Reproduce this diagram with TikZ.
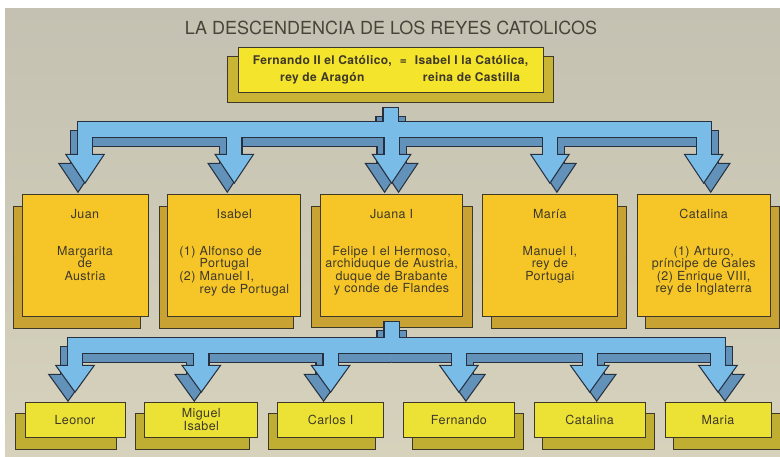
\documentclass[tikz,border=0pt]{standalone}
\usepackage{fontspec}
\setmainfont{TeX Gyre Heros}
\newfontfamily\boxfont[LetterSpace=3]{TeX Gyre Heros}
\usetikzlibrary{positioning, calc}

\definecolor{papertop}{RGB}{196,193,178}
\definecolor{paperlow}{RGB}{214,210,188}
\definecolor{ink}{RGB}{62,56,40}
\definecolor{titleink}{RGB}{72,68,58}
\definecolor{kingfill}{RGB}{244,228,44}
\definecolor{kingshadefill}{RGB}{202,180,54}
\definecolor{kidfill}{RGB}{246,198,40}
\definecolor{kidshadefill}{RGB}{200,162,50}
\definecolor{grandfill}{RGB}{236,226,54}
\definecolor{grandshadefill}{RGB}{192,174,50}
\definecolor{arrowblue}{RGB}{122,188,232}
\definecolor{arrowshade}{RGB}{98,146,186}
\definecolor{arrowline}{RGB}{38,48,62}

\pgfdeclarelayer{paperlayer}
\pgfdeclarelayer{shadelayer}
\pgfsetlayers{paperlayer,shadelayer,main}

% block arrow family: #1 style, #2 x offset, #3 y offset
\newcommand\familyarrows[3]{%
  \path[#1] ($(\arrsrc.south |- 0,\ystem)+(#2-7,#3)$) rectangle ($(\arrsrc.south |- 0,\ybar)+(#2+7,#3+1)$);
  \path[#1] ($(\arrleft.north |- 0,\ybar)+(#2-7,#3)$) rectangle ($(\arrright.north |- 0,\ybarlow)+(#2+7,#3)$);
  \foreach \k in \arrkids {
    \path[#1] ($(\k.north |- 0,\ybarlow)+(#2-7,#3-1)$) rectangle ($(\k.north |- 0,\yhead)+(#2+7,#3+1)$);
    \path[#1] ($(\k.north |- 0,\yhead)+(#2-18,#3)$) -- ($(\k.north |- 0,\yhead)+(#2+18,#3)$)
      -- ($(\k.north |- 0,\ytip)+(#2,#3)$) -- cycle;
  }}

% shadow to the left and right of the stem, then the blue arrows on top
\newcommand\shadedarrows{%
  \begin{scope}
    \clip (0,0) rectangle (\arrsrc.south |- 0,460);
    \familyarrows{arrowshadeout}{-7}{9}
    \familyarrows{arrowshadein}{-7}{9}
  \end{scope}
  \begin{scope}
    \clip (\arrsrc.south |- 0,0) rectangle (780,460);
    \familyarrows{arrowshadeout}{7}{9}
    \familyarrows{arrowshadein}{7}{9}
  \end{scope}
  \familyarrows{arrowout}{0}{0}
  \familyarrows{arrowin}{0}{0}}

\begin{document}
\begin{tikzpicture}[
    x=1pt, y=-1pt,
    node distance=19pt,
    headline/.style={font=\fontsize{18}{20}\selectfont, text=titleink},
    kingbox/.style={draw=ink, line width=0.8pt, fill=kingfill, text=ink, inner sep=0pt,
        minimum width=305pt, minimum height=45pt, font=\boxfont\bfseries\fontsize{12}{16.5}\selectfont},
    kidbox/.style={draw=ink, line width=0.8pt, fill=kidfill, text=ink, inner sep=0pt,
        text width=#1, align=center, text height=24pt, text depth=98pt,
        font=\boxfont\fontsize{12.5}{12.5}\selectfont},
    grandbox/.style={draw=ink, line width=0.8pt, fill=grandfill, text=ink, inner sep=0pt,
        minimum width=#1, minimum height=35pt, align=center, font=\boxfont\fontsize{12.5}{13}\selectfont},
    kingshade/.style={draw=ink, line width=0.8pt, fill=kingshadefill},
    kidshade/.style={draw=ink, line width=0.8pt, fill=kidshadefill},
    grandshade/.style={draw=ink, line width=0.8pt, fill=grandshadefill},
    arrowshadeout/.style={draw=arrowline, line width=2.4pt, fill=arrowshade},
    arrowshadein/.style={fill=arrowshade},
    arrowout/.style={draw=arrowline, line width=2.4pt, fill=arrowblue},
    arrowin/.style={fill=arrowblue}
]
\useasboundingbox (0,0) rectangle (780,456);

\begin{pgfonlayer}{paperlayer}
  \fill[white] (0,0) rectangle (780,456);
  \shade[top color=papertop, bottom color=paperlow] (5,8) rectangle (780,456);
\end{pgfonlayer}

\node[headline] (title) at (391,28) {LA DESCENDENCIA DE LOS REYES CATOLICOS};

\node[kingbox] (parents) at (390.5,69.5) {\begin{tabular}{@{}c@{\hspace{8pt}}c@{\hspace{8pt}}c@{}}
    Fernando II el Católico, & = & Isabel I la Católica,\\
    rey de Aragón & & reina de Castilla\end{tabular}};

% children
\node[kidbox=126pt] (juan) at (85,255) {Juan\\[24.5pt]Margarita\\de\\Austria};
\node[kidbox=133pt, right=of juan] (isabel) {Isabel\\[24.5pt]\begin{tabular}[t]{@{}l@{\ }l@{}}
    (1) & Alfonso de\\ & Portugal\\ (2) & Manuel I,\\ & rey de Portugal\end{tabular}};
\node[kidbox=142pt, right=of isabel] (juana) {Juana I\\[24.5pt]Felipe I el Hermoso,\\archiduque de Austria,\\duque de Brabante\\y conde de Flandes};
\node[kidbox=135pt, right=of juana] (maria) {María\\[24.5pt]Manuel I,\\rey de\\Portugai};
\node[kidbox=133pt, right=of maria] (catalina) {Catalina\\[24.5pt](1) Arturo,\\príncipe de Gales\\(2) Enrique VIII,\\rey de Inglaterra};

% grandchildren
\node[grandbox=100pt] (leonor) at (75,420) {Leonor};
\node[grandbox=113pt, right=of leonor] (miguel) {Miguel\\Isabel};
\node[grandbox=106pt, right=of miguel] (carlos) {Carlos I};
\node[grandbox=111pt, right=of carlos] (fernando) {Fernando};
\node[grandbox=111pt, right=of fernando] (catalinab) {Catalina};
\node[grandbox=106pt, right=of catalinab] (mariab) {Maria};

% shadows behind the boxes
\begin{pgfonlayer}{shadelayer}
  \draw[kingshade] ($(parents.north west)+(-10,10)$) rectangle ($(parents.south east)+(10,10)$);
  \foreach \k in {juan,isabel}
    \draw[kidshade] ($(\k.north west)+(-8,13)$) rectangle ($(\k.south east)+(-8,12)$);
  \draw[kidshade] ($(juana.north west)+(-9,13)$) rectangle ($(juana.south east)+(9,11)$);
  \foreach \k in {maria,catalina}
    \draw[kidshade] ($(\k.north west)+(9,13)$) rectangle ($(\k.south east)+(9,12)$);
  \foreach \k in {leonor,miguel,carlos}
    \draw[grandshade] ($(\k.north west)+(-9,11)$) rectangle ($(\k.south east)+(-9,11)$);
  \foreach \k in {fernando,catalinab,mariab}
    \draw[grandshade] ($(\k.north west)+(9,11)$) rectangle ($(\k.south east)+(9,11)$);
\end{pgfonlayer}

% arrows from the parents to the children
\def\arrsrc{parents}\def\arrleft{juan}\def\arrright{catalina}
\def\arrkids{juan,isabel,juana,maria,catalina}
\def\ystem{108}\def\ybar{122}\def\ybarlow{137}\def\yhead{155}\def\ytip{182}
\shadedarrows

% arrows from Juana I to her children
\def\arrsrc{juana}\def\arrleft{leonor}\def\arrright{mariab}
\def\arrkids{leonor,miguel,carlos,fernando,catalinab,mariab}
\def\ystem{322}\def\ybar{338}\def\ybarlow{353}\def\yhead{366}\def\ytip{391}
\shadedarrows

\end{tikzpicture}
\end{document}
